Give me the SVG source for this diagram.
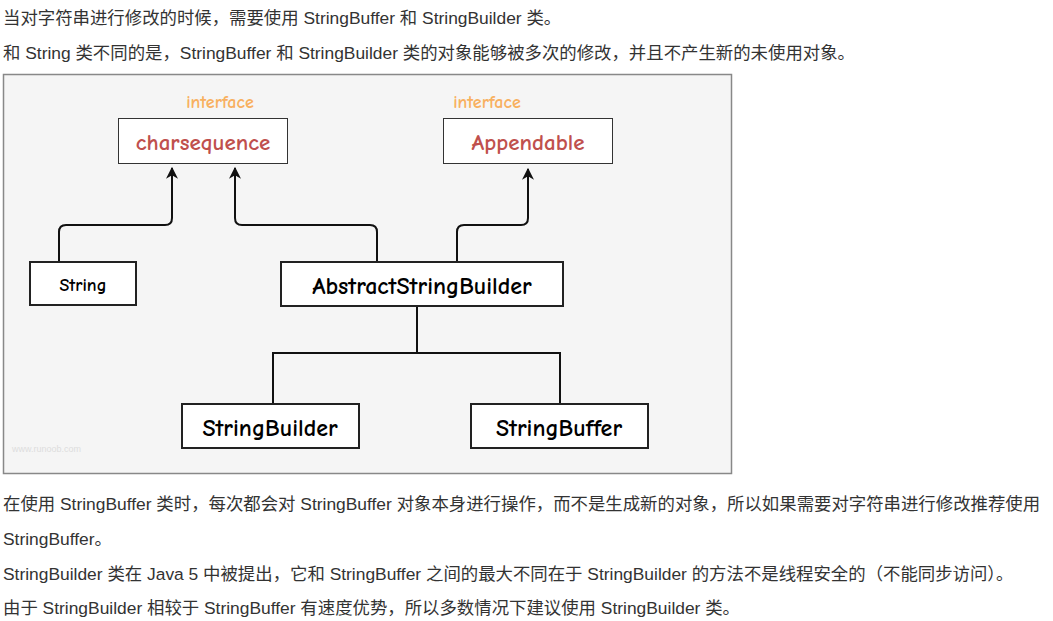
<svg xmlns="http://www.w3.org/2000/svg" width="1053" height="621" viewBox="0 0 1053 621">
<style>
.t{font-family:"Liberation Sans","Noto Sans CJK SC",sans-serif;font-size:17.4px;fill:#333}
.box{fill:#fff;stroke:#222;stroke-width:2}
.ibox{fill:#fff;stroke:#333;stroke-width:1}
.n{font-family:"Comic Neue","DejaVu Sans",sans-serif;text-anchor:middle;font-weight:bold}
.c{fill:none;stroke:#111;stroke-width:2}
</style>
<defs><marker id="a" viewBox="0 0 10 10" refX="9" refY="5" markerWidth="6" markerHeight="6" orient="auto"><path d="M0,0 L10,5 L0,10 L3,5z" fill="#111"/></marker></defs>
<rect width="1053" height="621" fill="#fff"/>
<text class="t" x="3" y="24">当对字符串进行修改的时候，需要使用 StringBuffer 和 StringBuilder 类。</text>
<text class="t" x="3" y="59">和 String 类不同的是，StringBuffer 和 StringBuilder 类的对象能够被多次的修改，并且不产生新的未使用对象。</text>
<rect x="3.5" y="74.5" width="728" height="399" fill="#f5f5f5" stroke="#888" stroke-width="1.5"/>
<text x="12" y="452" font-family="Liberation Sans,sans-serif" font-size="9" fill="#ddd">www.runoob.com</text>
<g id="connectors">
<path class="c" d="M59,261 V232 Q59,225 66,225 H165 Q172,225 172,218 V168" marker-end="url(#a)"/>
<path class="c" d="M377,261 V232 Q377,225 370,225 H242 Q235,225 235,218 V168" marker-end="url(#a)"/>
<path class="c" d="M457,261 V232 Q457,225 464,225 H521 Q528,225 528,218 V169" marker-end="url(#a)"/>
<path class="c" d="M417,306 V353 M273,403 V353 H560 V403"/>
</g>
<g id="charsequence"><text class="n" x="220" y="108" font-size="18" fill="#f8b060" font-weight="normal">interface</text><rect class="ibox" x="118.5" y="118.5" width="169" height="45"/><text class="n" x="203" y="150" font-size="23" fill="#c0504d">charsequence</text></g>
<g id="appendable"><text class="n" x="487" y="108" font-size="18" fill="#f8b060" font-weight="normal">interface</text><rect class="ibox" x="443.5" y="118.5" width="169" height="45"/><text class="n" x="528" y="150" font-size="23" fill="#c0504d">Appendable</text></g>
<g id="string"><rect class="box" x="30" y="262" width="106" height="43"/><text class="n" x="83" y="291" font-size="18">String</text></g>
<g id="asb"><rect class="box" x="281" y="262" width="282" height="44"/><text class="n" x="422" y="294" font-size="24">AbstractStringBuilder</text></g>
<g id="sbuilder"><rect class="box" x="182" y="404" width="177" height="44"/><text class="n" x="270" y="436" font-size="24">StringBuilder</text></g>
<g id="sbuffer"><rect class="box" x="471" y="404" width="177" height="44"/><text class="n" x="559" y="436" font-size="24">StringBuffer</text></g>
<text class="t" x="3" y="510">在使用 StringBuffer 类时，每次都会对 StringBuffer 对象本身进行操作，而不是生成新的对象，所以如果需要对字符串进行修改推荐使用</text>
<text class="t" x="3" y="545">StringBuffer。</text>
<text class="t" x="3" y="580">StringBuilder 类在 Java 5 中被提出，它和 StringBuffer 之间的最大不同在于 StringBuilder 的方法不是线程安全的（不能同步访问）。</text>
<text class="t" x="3" y="614">由于 StringBuilder 相较于 StringBuffer 有速度优势，所以多数情况下建议使用 StringBuilder 类。</text>
</svg>
